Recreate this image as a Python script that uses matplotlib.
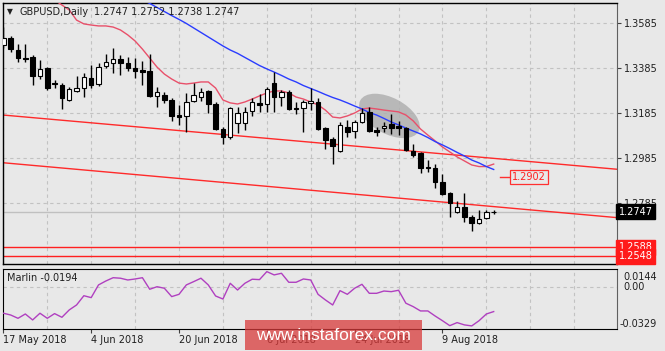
import numpy as np
import matplotlib
matplotlib.use("Agg")
import matplotlib.pyplot as plt
from matplotlib.patches import Ellipse, Rectangle

# ---------------- data ----------------
symbol = "GBPUSD,Daily"
header_values = "1.2747 1.2752 1.2738 1.2747"
tick_labels = ["17 May 2018", "4 Jun 2018", "20 Jun 2018", "6 Jul 2018", "24 Jul 2018", "9 Aug 2018"]
label_bars = [0, 12, 24, 36, 48, 60]
price_ticks = [1.3585, 1.3385, 1.3185, 1.2985, 1.2785]

opens = [1.3487, 1.3517, 1.3465, 1.3431, 1.3435, 1.3349, 1.3384, 1.3320, 1.3309, 1.3243,
         1.3284, 1.3295, 1.3339, 1.3313, 1.3394, 1.3409, 1.3424, 1.3409, 1.3384, 1.3376,
         1.3373, 1.3261, 1.3265, 1.3243, 1.3175, 1.3173, 1.3238, 1.3255, 1.3283, 1.3225,
         1.3115, 1.3077, 1.3142, 1.3142, 1.3194, 1.3228, 1.3224, 1.3317, 1.3257, 1.3277,
         1.3209, 1.3206, 1.3229, 1.3235, 1.3120, 1.3069, 1.3016, 1.3124, 1.3107, 1.3146,
         1.3191, 1.3109, 1.3117, 1.3135, 1.3129, 1.3117, 1.3016, 1.3006, 1.2946, 1.2939,
         1.2877, 1.2828, 1.2746, 1.2769, 1.2724, 1.2695, 1.2717, 1.2747]
highs = [1.3567, 1.3529, 1.3492, 1.3492, 1.3443, 1.3421, 1.3391, 1.3332, 1.3317, 1.3302,
         1.3349, 1.3361, 1.3398, 1.3409, 1.3446, 1.3473, 1.3443, 1.3434, 1.3428, 1.3417,
         1.3447, 1.3302, 1.3280, 1.3250, 1.3221, 1.3275, 1.3317, 1.3295, 1.3287, 1.3235,
         1.3124, 1.3213, 1.3210, 1.3210, 1.3250, 1.3268, 1.3302, 1.3366, 1.3287, 1.3287,
         1.3233, 1.3243, 1.3297, 1.3250, 1.3124, 1.3080, 1.3144, 1.3154, 1.3154, 1.3206,
         1.3213, 1.3124, 1.3146, 1.3179, 1.3149, 1.3124, 1.3046, 1.3010, 1.2976, 1.2957,
         1.2913, 1.2835, 1.2794, 1.2828, 1.2732, 1.2754, 1.2754, 1.2752]
lows = [1.3474, 1.3455, 1.3413, 1.3413, 1.3309, 1.3335, 1.3287, 1.3295, 1.3201, 1.3240,
        1.3280, 1.3255, 1.3295, 1.3305, 1.3386, 1.3364, 1.3354, 1.3372, 1.3339, 1.3309,
        1.3257, 1.3213, 1.3228, 1.3149, 1.3132, 1.3102, 1.3236, 1.3240, 1.3186, 1.3109,
        1.3047, 1.3068, 1.3095, 1.3109, 1.3173, 1.3191, 1.3188, 1.3188, 1.3217, 1.3198,
        1.3179, 1.3102, 1.3198, 1.3109, 1.3025, 1.2958, 1.3013, 1.3080, 1.3075, 1.3139,
        1.3102, 1.3084, 1.3102, 1.3090, 1.3087, 1.3016, 1.2991, 1.2917, 1.2921, 1.2850,
        1.2821, 1.2724, 1.2739, 1.2702, 1.2661, 1.2690, 1.2716, 1.2738]
closes = [1.3518, 1.3469, 1.3428, 1.3425, 1.3349, 1.3381, 1.3295, 1.3314, 1.3250, 1.3290,
          1.3296, 1.3346, 1.3309, 1.3391, 1.3413, 1.3424, 1.3406, 1.3383, 1.3373, 1.3369,
          1.3261, 1.3280, 1.3243, 1.3173, 1.3169, 1.3235, 1.3264, 1.3280, 1.3224, 1.3113,
          1.3077, 1.3206, 1.3184, 1.3191, 1.3233, 1.3221, 1.3292, 1.3257, 1.3277, 1.3201,
          1.3201, 1.3235, 1.3238, 1.3113, 1.3063, 1.3040, 1.3132, 1.3102, 1.3144, 1.3186,
          1.3107, 1.3102, 1.3129, 1.3117, 1.3120, 1.3021, 1.2998, 1.2942, 1.2939, 1.2880,
          1.2824, 1.2784, 1.2769, 1.2724, 1.2695, 1.2713, 1.2747, 1.2747]

ma_red = [None] * 6 + [
    1.3705, 1.3687, 1.3665, 1.3643, 1.3598, 1.3581, 1.3576, 1.3572, 1.3572, 1.3567,
    1.3554, 1.3532, 1.3505, 1.3469, 1.3429, 1.3389, 1.3358, 1.3336, 1.3318, 1.3314,
    1.3318, 1.3323, 1.3323, 1.3296, 1.3243, 1.3230, 1.3225, 1.3234, 1.3247, 1.3261,
    1.3274, 1.3283, 1.3283, 1.3274, 1.3256, 1.3247, 1.3234, 1.3221, 1.3198, 1.3167,
    1.3163, 1.3172, 1.3185, 1.3203, 1.3207, 1.3203, 1.3198, 1.3194, 1.3190, 1.3176,
    1.3150, 1.3114, 1.3087, 1.3061, 1.3034, 1.3012, 1.2990, 1.2972, 1.2954, 1.2947,
    1.2947, 1.2958]
ma_blue = [None] * 18 + [
    1.3705, 1.3687, 1.3672, 1.3654, 1.3636, 1.3618, 1.3601, 1.3583, 1.3563, 1.3543,
    1.3523, 1.3503, 1.3483, 1.3465, 1.3450, 1.3432, 1.3414, 1.3396, 1.3381, 1.3367,
    1.3352, 1.3336, 1.3323, 1.3307, 1.3294, 1.3281, 1.3267, 1.3254, 1.3243, 1.3230,
    1.3216, 1.3203, 1.3187, 1.3176, 1.3161, 1.3145, 1.3132, 1.3118, 1.3105, 1.3092,
    1.3076, 1.3058, 1.3043, 1.3027, 1.3010, 1.2994, 1.2976, 1.2963, 1.2947, 1.2934]

marlin = [-0.0207, -0.0221, -0.0247, -0.0213, -0.0260, -0.0207, -0.0247, -0.0210, -0.0239, -0.0181,
          -0.0142, -0.0069, -0.0084, 0.0016, 0.0047, 0.0073, 0.0069, 0.0055, 0.0063, 0.0073,
          -0.0018, 0.0002, -0.0010, -0.0076, -0.0058, 0.0016, 0.0042, 0.0069, 0.0016, -0.0071,
          -0.0095, 0.0029, -0.0024, 0.0029, 0.0061, 0.0058, 0.0121, 0.0095, 0.0108, 0.0037,
          0.0037, 0.0063, 0.0055, -0.0058, -0.0102, -0.0142, -0.0029, -0.0058, -0.0010, 0.0021,
          -0.0050, -0.0050, -0.0032, -0.0037, -0.0026, -0.0128, -0.0155, -0.0189, -0.0189, -0.0229,
          -0.0266, -0.0305, -0.0281, -0.0299, -0.0307, -0.0266, -0.0213, -0.0194]
marlin_max, marlin_min = 0.0144, -0.0329

# trend lines: (bar, price) end points
trend_upper = [(-0.05, 1.3176), (83.85, 1.2935)]
trend_lower = [(-0.05, 1.2964), (83.85, 1.2720)]
support_levels = [1.2588, 1.2548]
last_price = 1.2747
target_level = 1.2902
ellipse_center = (52.75, 1.3172)

# ---------------- style ----------------
W, H = 665, 351
BG = '#e8e8e8'
GRID = '#c2c2c2'
TXT = '#202020'
FS = 7

fig = plt.figure(figsize=(W / 100, H / 100), dpi=100, facecolor=BG)

def fx(px):
    return px / W

def fy(py):
    return 1 - py / H

ax = fig.add_axes([fx(3), fy(264), fx(617) - fx(3), fy(3) - fy(264)], facecolor=BG)
ax2 = fig.add_axes([fx(3), fy(328.7), fx(617) - fx(3), fy(268.7) - fy(328.7)], facecolor=BG)

xmin, xmax = -0.05, 83.85
n = len(opens)
x = np.arange(n)

# ---- main panel ----
ax.set_xlim(xmin, xmax)
ax.set_ylim(1.25139, 1.36739)
ax.set_xticks(np.arange(0, 84, 6))
ax.set_yticks(price_ticks)
ax.set_yticklabels([f"{p:.4f}" for p in price_ticks])
ax.yaxis.tick_right()
ax.tick_params(axis='y', length=3, width=0.8, color='#404040', labelsize=FS, labelcolor=TXT, pad=2)
ax.tick_params(axis='x', length=0, labelbottom=False)
ax.grid(True, color=GRID, linestyle=(0, (3, 3)), linewidth=0.8)
ax.set_axisbelow(True)
for s in ['left', 'top', 'bottom']:
    ax.spines[s].set_color('black')
    ax.spines[s].set_linewidth(1)
ax.spines['right'].set_color('#606060')

# ellipse highlight (drawn in pixel space so it can be tilted)
ax.figure.canvas.draw()
cx, cy = ax.transData.transform(ellipse_center)
ell = Ellipse((cx, cy), width=66, height=36, angle=-28, transform=None,
              facecolor='#b0b0b0', edgecolor='none', alpha=0.85, zorder=1)
ax.add_artist(ell)

# current price line
ax.axhline(last_price, color='#c0c0c0', lw=1, zorder=1.5)
# support levels
for lv in support_levels:
    ax.axhline(lv, color='#ff2020', lw=1, zorder=2)
# trend lines
for tl in (trend_upper, trend_lower):
    ax.plot([tl[0][0], tl[1][0]], [tl[0][1], tl[1][1]], color='#ff2a2a', lw=1, zorder=2)

# moving averages
ma_r = np.array([np.nan if v is None else v for v in ma_red])
ma_b = np.array([np.nan if v is None else v for v in ma_blue])
ax.plot(x, ma_r, color='#e8506a', lw=1, zorder=3)
ax.plot(x, ma_b, color='#2a3cff', lw=1, zorder=3)

# candles
o = np.array(opens); c = np.array(closes); hi = np.array(highs); lo = np.array(lows)
ax.vlines(x, lo, hi, color='black', lw=1, zorder=4)
up = c >= o
body_w = 0.62
ax.bar(x[up], (c - o)[up], bottom=o[up], width=body_w, color='white', edgecolor='black', lw=0.8, zorder=5)
ax.bar(x[~up], (o - c)[~up], bottom=c[~up], width=body_w, color='black', edgecolor='black', lw=0.8, zorder=5)

# 1.2902 target label
ax.plot([67.9, 69.3], [target_level, target_level], color='#ff3030', lw=1, zorder=3)
ax.text(71.8, target_level, f"{target_level:.4f}", color='#ff2020', fontsize=FS, ha='center', va='center',
        bbox=dict(boxstyle='square,pad=0.2', facecolor=BG, edgecolor='#ff3030', lw=0.9), zorder=6)

# right-axis price boxes
ytr = ax.get_yaxis_transform()
ax.text(1.0025, last_price, f"{last_price:.4f}", transform=ytr, color='white', fontsize=FS, ha='left',
        va='center', bbox=dict(boxstyle='square,pad=0.25', facecolor='black', edgecolor='black'),
        clip_on=False, zorder=7)
for lv in support_levels:
    ax.text(1.0025, lv, f"{lv:.4f}", transform=ytr, color='white', fontsize=FS, ha='left',
            va='center', bbox=dict(boxstyle='square,pad=0.25', facecolor='#ff1a1a', edgecolor='#ff1a1a'),
            clip_on=False, zorder=7)

# header
fig.text(fx(7), fy(12), "\u25BC", fontsize=5.5, color=TXT, ha='left', va='center')
fig.text(fx(19), fy(12), symbol, fontsize=FS, color=TXT, ha='left', va='center')
fig.text(fx(94), fy(12), header_values, fontsize=FS, color=TXT, ha='left', va='center')

# ---- indicator panel ----
ax2.set_xlim(xmin, xmax)
ax2.set_ylim(marlin_min, marlin_max)
ax2.plot(x, marlin, color='#b040c0', lw=1, zorder=3)
ax2.axhline(0, color=GRID, linestyle=(0, (3, 3)), lw=0.8, zorder=1)
ax2.set_xticks(label_bars)
ax2.set_xticklabels(tick_labels, ha='left')
ax2.set_xticks(np.arange(0, 84, 6), minor=True)
ax2.tick_params(axis='x', which='major', length=3, width=0.8, color='#404040', labelsize=FS,
                labelcolor=TXT, pad=1.5)
ax2.tick_params(axis='x', which='minor', length=0)
ax2.grid(True, axis='x', which='minor', color=GRID, linestyle=(0, (3, 3)), linewidth=0.8)
ax2.set_axisbelow(True)
ax2.set_yticks([])
for s in ['left', 'top', 'bottom']:
    ax2.spines[s].set_color('black')
ax2.spines['right'].set_color('#606060')
ytr2 = ax2.get_yaxis_transform()
ax2.annotate(f"{marlin_max:.4f}", (1.0, marlin_max), xycoords=ytr2, xytext=(6, -8),
             textcoords='offset pixels', fontsize=FS, color=TXT, ha='left', va='center', annotation_clip=False)
ax2.annotate("0.00", (1.0, 0), xycoords=ytr2, xytext=(6, 0),
             textcoords='offset pixels', fontsize=FS, color=TXT, ha='left', va='center', annotation_clip=False)
ax2.annotate(f"{marlin_min:.4f}", (1.0, marlin_min), xycoords=ytr2, xytext=(3, 5),
             textcoords='offset pixels', fontsize=FS, color=TXT, ha='left', va='center', annotation_clip=False)
ax2.text(0.007, 0.85, f"Marlin {marlin[-1]:.4f}", transform=ax2.transAxes, fontsize=FS, color=TXT,
         ha='left', va='center')

# watermark
fig.patches.append(Rectangle((fx(245), fy(350)), fx(422) - fx(245), fy(320) - fy(350),
                             transform=fig.transFigure, facecolor='#d83a3a', alpha=0.75,
                             edgecolor='none', zorder=10))
fig.text(fx(333), fy(335), "www.instaforex.com", fontsize=12.5, color='white', ha='center', va='center',
         family='Liberation Sans', zorder=11)

fig.savefig("out.png", dpi=100, facecolor=BG)
